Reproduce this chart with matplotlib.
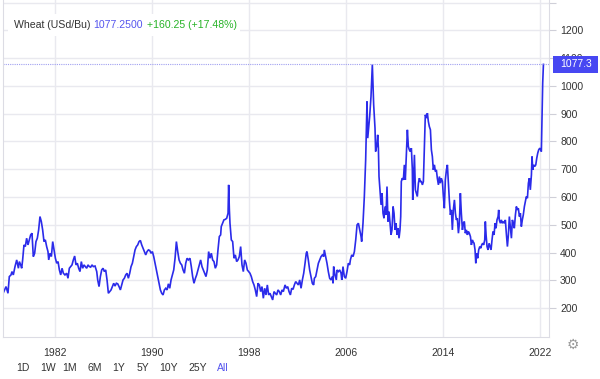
import matplotlib.pyplot as plt
from matplotlib.patches import Rectangle
from matplotlib.transforms import blended_transform_factory
from decimal import Decimal, ROUND_HALF_UP

# wheat futures, USd per bushel (decimal years)
years = [
    1977.74, 1977.96, 1978.12, 1978.23, 1978.37, 1978.45, 1978.56, 1978.70, 1978.84, 1978.98,
    1979.06, 1979.17, 1979.25, 1979.33, 1979.44, 1979.55, 1979.66, 1979.77, 1979.88, 1979.99,
    1980.10, 1980.21, 1980.32, 1980.43, 1980.54, 1980.65, 1980.76, 1980.87, 1980.98, 1981.09,
    1981.20, 1981.31, 1981.42, 1981.48, 1981.59, 1981.70, 1981.81, 1981.92, 1982.03, 1982.14,
    1982.25, 1982.36, 1982.47, 1982.58, 1982.69, 1982.82, 1982.96, 1983.07, 1983.18, 1983.29,
    1983.40, 1983.51, 1983.62, 1983.73, 1983.84, 1983.95, 1984.06, 1984.17, 1984.28, 1984.39,
    1984.50, 1984.61, 1984.72, 1984.83, 1984.94, 1985.05, 1985.16,
    1985.30, 1985.44, 1985.52, 1985.63, 1985.74, 1985.85, 1985.96, 1986.07, 1986.18, 1986.29,
    1986.40, 1986.51, 1986.62, 1986.73, 1986.84, 1986.95, 1987.06, 1987.17, 1987.28, 1987.39,
    1987.50, 1987.61, 1987.72, 1987.83, 1987.94, 1988.05, 1988.16, 1988.27, 1988.38, 1988.49,
    1988.60, 1988.71, 1988.82, 1988.93, 1989.04, 1989.15, 1989.26, 1989.37, 1989.48, 1989.59,
    1989.70, 1989.81, 1989.92, 1990.03, 1990.14, 1990.25, 1990.36, 1990.47, 1990.58, 1990.69,
    1990.80, 1990.91, 1991.02, 1991.13, 1991.24, 1991.35, 1991.46, 1991.57, 1991.68, 1991.79,
    1991.90, 1992.01, 1992.12, 1992.23, 1992.34, 1992.45, 1992.56, 1992.67, 1992.78, 1992.89,
    1993.00,
    1993.13, 1993.24, 1993.35, 1993.46, 1993.58, 1993.68, 1993.79, 1993.90, 1994.01, 1994.12,
    1994.23, 1994.34, 1994.45, 1994.56, 1994.67, 1994.78, 1994.89, 1995.00, 1995.11, 1995.22,
    1995.33, 1995.44, 1995.55, 1995.66, 1995.71, 1995.82, 1995.93, 1996.05, 1996.16, 1996.27,
    1996.32, 1996.38, 1996.43, 1996.54, 1996.65, 1996.76, 1996.87, 1996.98, 1997.09, 1997.20,
    1997.31, 1997.42, 1997.53, 1997.64, 1997.75, 1997.86, 1997.97, 1998.08, 1998.19, 1998.30,
    1998.41, 1998.52, 1998.63, 1998.74, 1998.85, 1998.96, 1999.07, 1999.18, 1999.29, 1999.40,
    1999.51, 1999.62, 1999.73, 1999.84, 1999.95, 2000.06, 2000.17, 2000.28, 2000.39, 2000.50,
    2000.61, 2000.72, 2000.83,
    2000.97, 2001.08, 2001.19, 2001.30, 2001.41, 2001.52, 2001.63, 2001.74, 2001.85, 2001.96,
    2002.07, 2002.18, 2002.29, 2002.40, 2002.51, 2002.62, 2002.72, 2002.78, 2002.89, 2003.00,
    2003.11, 2003.22, 2003.33, 2003.39, 2003.50, 2003.61, 2003.72, 2003.83, 2003.94, 2004.05,
    2004.16, 2004.21, 2004.32, 2004.43, 2004.54, 2004.65, 2004.76, 2004.87, 2004.93, 2004.98,
    2005.09, 2005.20, 2005.26, 2005.37, 2005.48, 2005.59, 2005.65, 2005.75, 2005.86, 2005.97,
    2006.08, 2006.19, 2006.30, 2006.36, 2006.47, 2006.58, 2006.69, 2006.80, 2006.91, 2007.02,
    2007.13, 2007.24, 2007.29, 2007.40, 2007.51, 2007.62, 2007.68, 2007.73, 2007.79, 2007.84,
    2007.95, 2008.06, 2008.17, 2008.28, 2008.39, 2008.44, 2008.55, 2008.61, 2008.67, 2008.72,
    2008.80, 2008.89, 2008.97, 2009.05, 2009.13, 2009.22, 2009.30, 2009.38, 2009.46, 2009.55,
    2009.63, 2009.71, 2009.79, 2009.88, 2009.96, 2010.04, 2010.12, 2010.21, 2010.29, 2010.37,
    2010.45, 2010.51, 2010.56, 2010.64, 2010.73, 2010.81, 2010.89, 2010.97, 2011.06, 2011.14,
    2011.22, 2011.30, 2011.39, 2011.47, 2011.50, 2011.55, 2011.64, 2011.72, 2011.80, 2011.88,
    2011.97, 2012.05, 2012.13, 2012.21, 2012.30, 2012.38, 2012.46, 2012.54, 2012.63, 2012.71,
    2012.79, 2012.87, 2012.96, 2013.04, 2013.12, 2013.20, 2013.29, 2013.37, 2013.45, 2013.53,
    2013.62, 2013.70, 2013.78, 2013.86, 2013.95, 2014.03, 2014.11, 2014.19, 2014.28, 2014.36,
    2014.44, 2014.52, 2014.61, 2014.69, 2014.77, 2014.85, 2014.94, 2015.02, 2015.10, 2015.18,
    2015.27, 2015.35, 2015.43, 2015.51, 2015.60, 2015.68, 2015.76, 2015.84, 2015.93, 2016.01,
    2016.09, 2016.17, 2016.26, 2016.34, 2016.42,
    2016.47, 2016.56, 2016.64, 2016.70, 2016.78, 2016.86, 2016.94, 2017.03, 2017.11, 2017.19,
    2017.27, 2017.35, 2017.44, 2017.49, 2017.55, 2017.63, 2017.71, 2017.80, 2017.88, 2017.96,
    2018.04, 2018.12, 2018.21, 2018.29, 2018.37, 2018.45, 2018.54, 2018.59, 2018.64, 2018.73,
    2018.81, 2018.89, 2018.98, 2019.06, 2019.14, 2019.22, 2019.31, 2019.39, 2019.47, 2019.55,
    2019.64, 2019.72, 2019.80, 2019.88, 2019.97, 2020.05, 2020.13, 2020.21, 2020.30, 2020.38,
    2020.46, 2020.54, 2020.62, 2020.71, 2020.79, 2020.87, 2020.96, 2021.04, 2021.12, 2021.20,
    2021.29, 2021.34, 2021.40, 2021.48, 2021.56, 2021.65, 2021.73, 2021.81, 2021.89, 2021.98,
    2022.06, 2022.11, 2022.17, 2022.22, 2022.28,
]
prices = [
    256, 278, 254, 314, 320, 332, 320, 350, 374, 344,
    368, 356, 344, 374, 428, 422, 452, 428, 446, 464,
    470, 386, 398, 440, 452, 482, 530, 512, 482, 440,
    446, 422, 404, 374, 398, 386, 440, 410, 380, 362,
    368, 338, 320, 344, 326, 320, 326, 308, 344, 350,
    356, 374, 388, 356, 362, 344, 332, 368, 344, 356,
    350, 344, 356, 350, 348, 356, 350,
    352, 332, 302, 278, 314, 338, 344, 332, 338, 302,
    254, 260, 266, 278, 290, 280, 290, 288, 278, 266,
    284, 302, 308, 320, 326, 308, 326, 350, 362, 386,
    410, 422, 428, 440, 444, 428, 416, 404, 392, 404,
    410, 408, 398, 404, 386, 362, 338, 314, 290, 266,
    254, 248, 266, 272, 266, 288, 272, 302, 320, 338,
    380, 440, 404, 374, 362, 356, 338, 326, 362, 380,
    374,
    380, 350, 314, 290, 308, 320, 338, 356, 374, 350,
    338, 326, 314, 338, 404, 380, 398, 374, 368, 344,
    356, 410, 458, 464, 494, 506, 518, 520, 524, 542,
    644, 554, 506, 446, 440, 380, 392, 368, 374, 386,
    422, 356, 332, 374, 362, 338, 332, 326, 314, 296,
    284, 266, 242, 290, 284, 260, 278, 236, 272, 248,
    284, 248, 254, 242, 230, 260, 254, 248, 266, 260,
    248, 266, 260,
    284, 272, 278, 260, 248, 272, 268, 284, 296, 290,
    284, 302, 272, 302, 326, 362, 398, 404, 374, 338,
    314, 290, 284, 308, 314, 338, 362, 374, 386, 392,
    386, 410, 386, 362, 332, 308, 302, 314, 290, 350,
    320, 302, 338, 332, 338, 326, 302, 350, 314, 308,
    332, 362, 356, 374, 392, 386, 404, 446, 500, 506,
    482, 458, 440, 506, 602, 734, 854, 944, 812, 836,
    890, 962, 1077, 932, 848, 764, 788, 824, 776, 674,
    626, 572, 614, 542, 524, 566, 536, 638, 512, 548,
    506, 464, 482, 566, 542, 482, 506, 464, 488, 452,
    482, 530, 656, 668, 662, 716, 662, 746, 842, 782,
    770, 764, 776, 698, 590, 638, 752, 626, 614, 602,
    650, 668, 656, 656, 644, 656, 770, 896, 884, 902,
    872, 854, 842, 770, 746, 698, 716, 692, 698, 668,
    644, 674, 650, 668, 656, 602, 560, 662, 698, 716,
    650, 590, 536, 554, 482, 554, 590, 542, 518, 524,
    470, 506, 614, 542, 482, 506, 512, 470, 482, 464,
    476, 470, 458, 428, 446,
    440, 434, 410, 362, 398, 380, 410, 422, 416, 428,
    434, 428, 446, 512, 464, 422, 410, 434, 422, 410,
    446, 476, 464, 506, 488, 518, 530, 554, 518, 506,
    518, 506, 512, 506, 518, 470, 422, 464, 530, 494,
    452, 518, 506, 488, 536, 566, 554, 560, 530, 542,
    494, 518, 536, 566, 584, 602, 596, 650, 668, 626,
    680, 746, 698, 716, 710, 716, 740, 758, 770, 776,
    770, 764, 890, 1010, 1077.25,
]

year_ticks = [1982, 1990, 1998, 2006, 2014, 2022]
price_ticks = [200, 300, 400, 500, 600, 700, 800, 900, 1000, 1100, 1200]
ranges = ['1D', '1W', '1M', '6M', '1Y', '5Y', '10Y', '25Y', 'All']

plt.rcParams['font.family'] = ['Liberation Sans', 'DejaVu Sans']

LINE = '#2b2bea'
GRID = '#e9e9ef'
TXT = '#333333'

fig = plt.figure(figsize=(6, 3.79), dpi=100)
ax = fig.add_axes([3 / 600, 42 / 379, 546 / 600, 337 / 379])

ax.plot(years, prices, color=LINE, lw=1.2, solid_joinstyle='miter')
ax.axhline(prices[-1], color='#a0a0f0', lw=0.8, ls=(0, (1, 1)))

ax.set_xlim(1977.71, 2022.74)
ax.set_ylim(96.7, 1309)

ax.set_xticks(year_ticks)
ax.set_yticks(price_ticks + [1300])
ax.set_yticklabels([str(t) for t in price_ticks] + [''])
ax.yaxis.tick_right()
ax.grid(True, color=GRID, lw=1)
ax.set_axisbelow(True)
ax.tick_params(axis='x', length=0, pad=8, labelsize=7.5, labelcolor=TXT)
ax.tick_params(axis='y', length=5, width=0.8, color='#cfcfd8', pad=3, labelsize=7.5, labelcolor=TXT)
for lbl in ax.get_yticklabels():
    lbl.set_horizontalalignment('left')
ax.spines['top'].set_visible(False)
for side in ['left', 'right', 'bottom']:
    ax.spines[side].set_color('#dcdce4')
    ax.spines[side].set_linewidth(0.8)

# last price tag on the right axis
last = Decimal(str(prices[-1])).quantize(Decimal('0.1'), rounding=ROUND_HALF_UP)
tr = blended_transform_factory(ax.transAxes, ax.transData)
ax.add_patch(Rectangle((1.0073, prices[-1] - 32), 0.083, 64, transform=tr,
                       facecolor='#4747f2', edgecolor='none', clip_on=False, zorder=5))
ax.text(1.049, prices[-1], str(last), transform=tr, color='white',
        fontsize=7.5, ha='center', va='center', zorder=6, clip_on=False)

# header
fig.add_artist(Rectangle((8 / 600, 343 / 379), 232 / 600, 22 / 379, transform=fig.transFigure,
                         facecolor='white', edgecolor='none', zorder=1))
hy = 1 - 25 / 379
fig.text(14 / 600, hy, 'Wheat (USd/Bu)', color=TXT, fontsize=7.6, va='center', zorder=3)
fig.text(93 / 600, hy, '1077.2500', color='#5555ee', fontsize=7.6, va='center', zorder=3)
fig.text(147 / 600, hy, '+160.25 (+17.48%)', color='#27b327', fontsize=7.6, va='center', zorder=3)

# range buttons
bx = [23, 48, 70, 95, 119, 143, 169, 198, 223]
for r, x in zip(ranges, bx):
    fig.text(x / 600, 1 - 368 / 379, r, color='#5555ee' if r == 'All' else TXT,
             fontsize=7.5, ha='center', va='center')
fig.text(573 / 600, 1 - 345 / 379, '\u2699', family='DejaVu Sans', color='#9a9a9a',
         fontsize=10, ha='center', va='center')

fig.savefig('out.png', dpi=100)
